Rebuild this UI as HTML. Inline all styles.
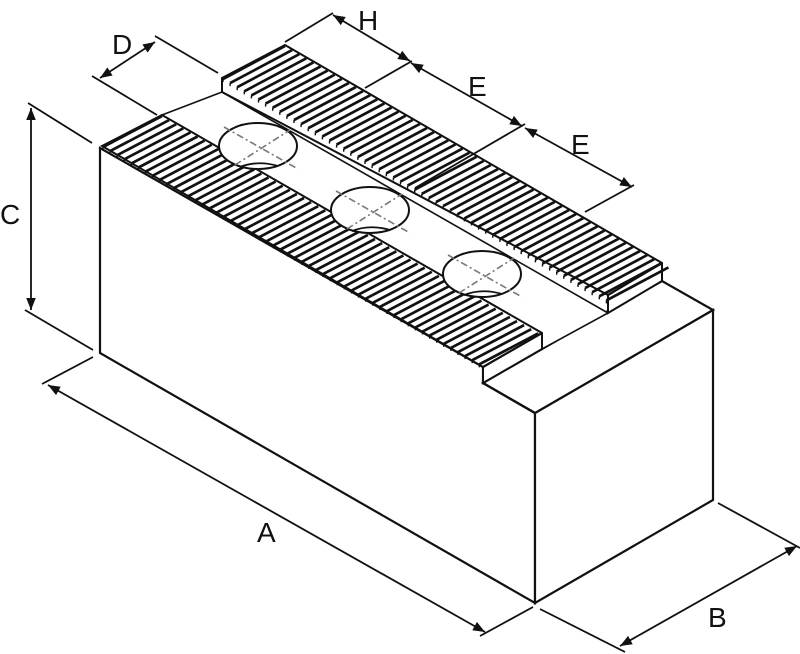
<!DOCTYPE html>
<html><head><meta charset="utf-8"><style>
html,body{margin:0;padding:0;background:#fff;width:800px;height:654px;overflow:hidden}
svg{display:block}
text{font-family:"Liberation Sans",sans-serif;font-size:28px;fill:#111}
</style></head><body>
<svg id="s" width="800" height="654" viewBox="0 0 800 654" xmlns="http://www.w3.org/2000/svg">
<defs>
<marker id="ar" viewBox="0 0 10 10" refX="10" refY="5" markerWidth="12" markerHeight="12" markerUnits="userSpaceOnUse" orient="auto-start-reverse">
<path d="M0,1 L10,5 L0,9 z" fill="#111"/>
</marker>
</defs>
<g stroke="#111" fill="none" stroke-width="2.2" stroke-linejoin="miter">
<polygon points="100,148 100,353 535,603 535,413 483,383 483,367" fill="#fff"/>
<polygon points="535,413 713,310 713,500 535,603" fill="#fff"/>
<polygon points="483,383 542,349 608,311 662,281 713,310 535,413" fill="#fff"/>
<polygon points="162,115 222,92 608,313 542,349" fill="#fff" stroke-width="1.6"/>
<polygon points="102,146 162,115 542,333 542,349 483,383 483,367" fill="#fff" stroke-width="2"/>
<polygon points="222,78 285,45 662,263 662,281 608,313 608,295 222,92" fill="#fff" stroke-width="2"/>
<line x1="483" y1="367" x2="542" y2="333"/>
<line x1="608" y1="295" x2="662" y2="263"/>
<line x1="483" y1="383" x2="535" y2="413"/>
</g>
<g id="serr" stroke="#111" stroke-width="2.7" fill="none"></g>
<g stroke="#111" stroke-width="2" fill="#fff">
<ellipse cx="258" cy="146" rx="39" ry="23"/>
<ellipse cx="370" cy="210" rx="39" ry="23"/>
<ellipse cx="482" cy="274" rx="39" ry="23"/>
</g>
<g stroke="#111" stroke-width="1.8" fill="none">
<path d="M240,167 Q258,160 278,166"/>
<path d="M352,231 Q370,224 390,230"/>
<path d="M464,295 Q482,288 502,294"/>
</g>
<g stroke="#777" stroke-width="1.6" stroke-dasharray="7,3,2,3" fill="none">
<line x1="224" y1="127" x2="298" y2="169"/><line x1="235" y1="165" x2="290" y2="130"/>
<line x1="336" y1="191" x2="410" y2="233"/><line x1="347" y1="229" x2="402" y2="194"/>
<line x1="448" y1="255" x2="522" y2="297"/><line x1="459" y1="293" x2="514" y2="258"/>
</g>
<g stroke="#111" stroke-width="1.8" fill="none">
<line x1="28" y1="103" x2="92" y2="143"/>
<line x1="25" y1="310" x2="93" y2="350"/>
<line x1="31" y1="108" x2="31" y2="310" marker-start="url(#ar)" marker-end="url(#ar)"/>
<line x1="92" y1="76" x2="157" y2="115"/>
<line x1="155" y1="36" x2="218" y2="73"/>
<line x1="100" y1="78" x2="155" y2="42" marker-start="url(#ar)" marker-end="url(#ar)"/>
<line x1="285" y1="42" x2="333" y2="13"/>
<line x1="365" y1="88" x2="412" y2="61"/>
<line x1="333" y1="15" x2="410" y2="61" marker-start="url(#ar)" marker-end="url(#ar)"/>
<line x1="415" y1="188" x2="525" y2="124"/>
<line x1="411" y1="63" x2="522" y2="126" marker-start="url(#ar)" marker-end="url(#ar)"/>
<line x1="585" y1="212" x2="634" y2="185"/>
<line x1="525" y1="128" x2="632" y2="187" marker-start="url(#ar)" marker-end="url(#ar)"/>
<line x1="93" y1="357" x2="42" y2="384"/>
<line x1="533" y1="607" x2="480" y2="636"/>
<line x1="48" y1="385" x2="485" y2="632" marker-start="url(#ar)" marker-end="url(#ar)"/>
<line x1="540" y1="609" x2="625" y2="652"/>
<line x1="718" y1="503" x2="800" y2="548"/>
<line x1="620" y1="646" x2="797" y2="546" marker-start="url(#ar)" marker-end="url(#ar)"/>
</g>
<text x="112" y="54">D</text>
<text x="358" y="30">H</text>
<text x="468" y="96">E</text>
<text x="571" y="154">E</text>
<text x="0" y="224">C</text>
<text x="257" y="542">A</text>
<text x="708" y="627">B</text>
</svg>
<script>
(function(){
var g=document.getElementById('serr'),ns='http://www.w3.org/2000/svg';
function strip(x0,y0,x1,dx,dy,step,h){
  var n=Math.floor((x1-x0)/step);
  for(var i=0;i<=n;i++){
    var x=x0+i*step,y=y0+(x-x0)*0.5775;
    var l=document.createElementNS(ns,'line');
    l.setAttribute('x1',x);l.setAttribute('y1',y);
    l.setAttribute('x2',x+dx);l.setAttribute('y2',y+dy);
    g.appendChild(l);
    var f=document.createElementNS(ns,'line');
    f.setAttribute('x1',x);f.setAttribute('y1',y);
    f.setAttribute('x2',x);f.setAttribute('y2',y+h);
    f.setAttribute('stroke-width','1.4');
    g.appendChild(f);
  }
}
strip(103,147,483,59,-31,7.1,3);
strip(223,79,608,62,-33,7.1,3);
})();
</script>
</body></html>
